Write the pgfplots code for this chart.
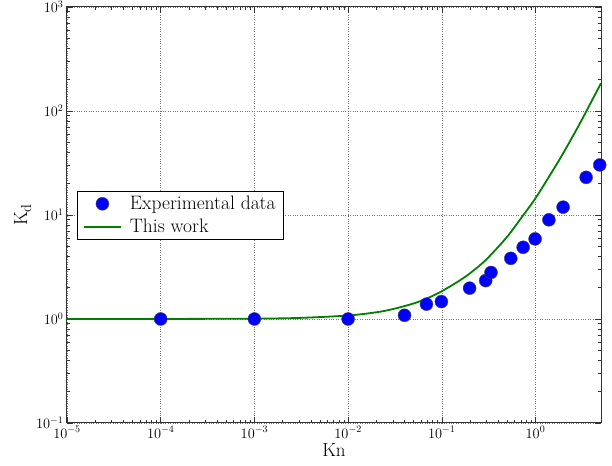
\documentclass[border=0pt]{standalone}
\usepackage{pgfplots}
\pgfplotsset{compat=1.18}
\pgfplotsset{
  mylegmark/.style={legend image code/.code={\path[draw=none,fill=none] (0pt,0pt) -- (44pt,0pt); \draw[##1] plot coordinates {(18.5pt,0pt)};}},
  mylegline/.style={legend image code/.code={\path[draw=none,fill=none] (0pt,0pt) -- (44pt,0pt); \draw[##1] (0pt,0pt) -- (37pt,0pt);}},
}
\begin{document}
\begin{tikzpicture}
\begin{axis}[
  scale only axis,
  width=534pt, height=416pt,
  xmode=log, ymode=log,
  xmin=1e-5, xmax=5,
  ymin=1e-1, ymax=1e3,
  xtick={1e-5,1e-4,1e-3,1e-2,1e-1,1},
  ytick={1e-1,1,1e1,1e2,1e3},
  grid=major,
  major grid style={black!55, dotted, line width=0.6pt},
  tick align=inside,
  xtick pos=both, ytick pos=both,
  major tick length=6pt, minor tick length=3pt,
  axis line style={line width=1pt, black!80},
  tick style={black!80, line width=0.6pt},
  tick label style={font=\fontsize{14}{16}\selectfont},
  xlabel={Kn}, ylabel={K$_\mathrm{d}$},
  label style={font=\fontsize{19}{22}\selectfont},
  xlabel style={yshift=2pt},
  ylabel style={yshift=-2pt},
  legend style={at={(0.018,0.558)}, anchor=north west, draw=black, line width=0.8pt,
    font=\fontsize{19.5}{22}\selectfont, row sep=4pt, inner xsep=6pt, inner ysep=3pt},
  legend cell align=left,
  clip=true,
]
\addplot[only marks, mark=*, mark size=6.5pt, mark options={fill=blue, draw=black!70, line width=0.4pt},
  mylegmark]
coordinates {
(1e-4,1) (1e-3,1) (1e-2,1)
(0.040,1.086) (0.0686,1.39) (0.099,1.47) (0.198,1.98) (0.294,2.34) (0.335,2.80)
(0.545,3.83) (0.738,4.89) (0.99,5.89) (1.39,8.99) (1.97,11.9) (3.47,23.0) (4.85,30.3)
};
\addlegendentry{Experimental data}
\addplot[color={rgb,1:red,0;green,0.5;blue,0}, line width=1.8pt, smooth, mylegline]
coordinates {
(1e-5,1.0001) (1e-4,1.0008) (1e-3,1.008) (3e-3,1.024) (0.01,1.08) (0.02,1.16)
(0.03,1.245) (0.05,1.41) (0.07,1.58) (0.1,1.85) (0.15,2.3) (0.2,2.75) (0.3,3.75)
(0.5,6.2) (0.7,9.3) (1,14.5) (1.5,26) (2,40) (3,77) (4,126) (5,185)
};
\addlegendentry{This work}
\end{axis}
\pgfresetboundingbox
\path[use as bounding box] ([xshift=-67pt,yshift=-43pt]current axis.south west) rectangle ([xshift=11pt,yshift=7pt]current axis.north east);
\end{tikzpicture}
\end{document}
